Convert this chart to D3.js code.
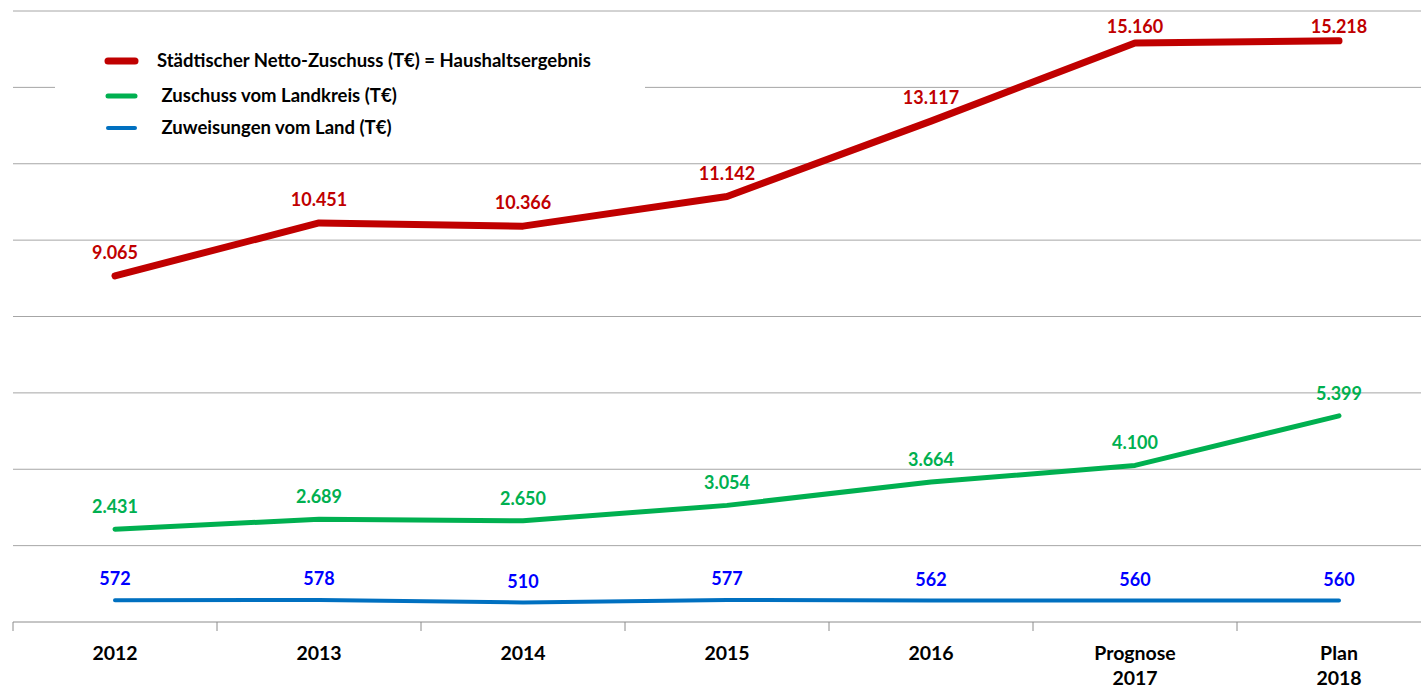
<!DOCTYPE html>
<html>
<head>
<meta charset="utf-8">
<script src="https://cdn.jsdelivr.net/npm/d3@7"></script>
<style>
  body { margin: 0; background: #fff; }
  svg { display: block; font-family: Lato, "Open Sans", sans-serif; font-weight: bold; }
</style>
</head>
<body>
<svg id="chart" width="1421" height="689"></svg>
<script>
// categories + tick labels (multi-line)
var years = ["2012", "2013", "2014", "2015", "2016", "2017", "2018"];
var tickLabels = [["2012"], ["2013"], ["2014"], ["2015"], ["2016"], ["Prognose", "2017"], ["Plan", "2018"]];

// series values (T€)
var staedtisch = [9065, 10451, 10366, 11142, 13117, 15160, 15218];
var landkreis = [2431, 2689, 2650, 3054, 3664, 4100, 5399];
var land = [572, 578, 510, 577, 562, 560, 560];

var legendNames = [
  "Städtischer Netto-Zuschuss (T€) = Haushaltsergebnis",
  " Zuschuss vom Landkreis (T€)",
  " Zuweisungen vom Land (T€)"
];

var fmt = d3.formatLocale({decimal: ",", thousands: ".", grouping: [3], currency: ["", "€"]}).format(",d");

var svg = d3.select("#chart");

var x = d3.scaleBand().domain(years).range([13, 1441]);
var y = d3.scaleLinear().domain([0, 16000]).range([622, 11]);

//////////---- gridlines ----//////////
svg.append("g")
  .selectAll("line")
  .data(d3.range(2000, 16001, 2000))
  .join("line")
    .attr("x1", 13).attr("x2", 1421)
    .attr("y1", d => y(d)).attr("y2", d => y(d))
    .attr("stroke", "#a6a6a6")
    .attr("stroke-width", 1);

//////////---- x axis ----//////////
var xAxis = svg.append("g")
  .attr("transform", "translate(0," + y(0) + ")")
  .call(d3.axisBottom(x).tickSize(0).tickFormat(""));
xAxis.select(".domain").attr("stroke", "#8c8c8c").attr("d", "M13,0H1421");

// tick marks sit on band edges
svg.append("g")
  .selectAll("line")
  .data(years)
  .join("line")
    .attr("x1", d => x(d)).attr("x2", d => x(d))
    .attr("y1", y(0)).attr("y2", y(0) + 9)
    .attr("stroke", "#8c8c8c");

var labelG = svg.append("g")
  .selectAll("text")
  .data(years)
  .join("text")
    .attr("x", d => x(d) + x.bandwidth() / 2)
    .attr("y", 660)
    .attr("text-anchor", "middle")
    .attr("font-size", 19.5)
    .attr("fill", "#000");
labelG.each(function(d, i) {
  var t = d3.select(this);
  tickLabels[i].forEach(function(s, j) {
    t.append("tspan").attr("x", x(d) + x.bandwidth() / 2).attr("dy", j ? 25 : 0).text(s);
  });
});

//////////---- lines ----//////////
var series = [
  {values: staedtisch, color: "#c00000", label: "#c00000", width: 7, off: 17},
  {values: landkreis, color: "#00b050", label: "#00b050", width: 5, off: 16},
  {values: land, color: "#0070c0", label: "#0000ff", width: 4, off: 15}
];

var line = d3.line()
  .x((d, i) => x(years[i]) + x.bandwidth() / 2)
  .y(d => y(d));

series.slice().reverse().forEach(function(s) {
  svg.append("path")
    .datum(s.values)
    .attr("fill", "none")
    .attr("stroke", s.color)
    .attr("stroke-width", s.width)
    .attr("stroke-linecap", "round")
    .attr("stroke-linejoin", "round")
    .attr("d", line);

  svg.append("g")
    .selectAll("text")
    .data(s.values)
    .join("text")
      .attr("x", (d, i) => x(years[i]) + x.bandwidth() / 2)
      .attr("y", d => Math.max(y(d) - s.off, 33))
      .attr("text-anchor", "middle")
      .attr("font-size", 18)
      .attr("fill", s.label)
      .text(d => fmt(d));
});

//////////---- legend ----//////////
var legend = svg.append("g");
legend.append("rect")
  .attr("x", 55).attr("y", 42).attr("width", 590).attr("height", 104)
  .attr("fill", "#fff");
var legendY = [61, 96, 128];
series.forEach(function(s, i) {
  legend.append("line")
    .attr("x1", 108).attr("x2", 135)
    .attr("y1", legendY[i]).attr("y2", legendY[i])
    .attr("stroke", s.color)
    .attr("stroke-width", s.width)
    .attr("stroke-linecap", "round");
  legend.append("text")
    .attr("x", 157)
    .attr("y", legendY[i] + 6)
    .attr("font-size", 18.5)
    .attr("fill", "#000")
    .attr("xml:space", "preserve")
    .style("white-space", "pre")
    .text(legendNames[i]);
});
</script>
</body>
</html>
